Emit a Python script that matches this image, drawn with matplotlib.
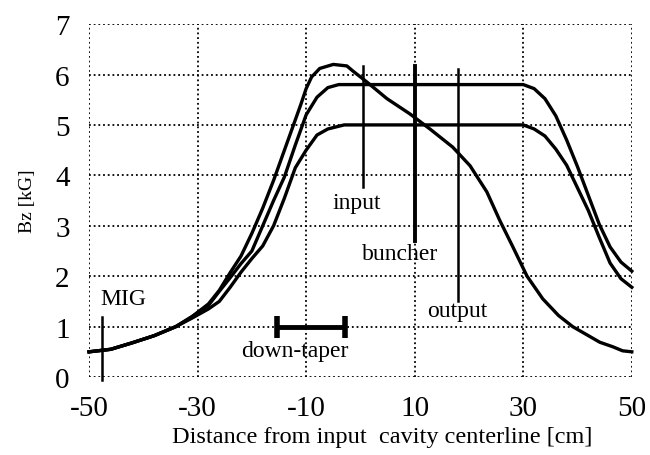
import matplotlib
matplotlib.use("Agg")
import matplotlib.pyplot as plt

# ---- data ----
xa = [-50, -46, -42, -38, -34, -31, -28, -26, -24, -22, -20, -18, -16, -14, -12,
      -11, -10, -9, -7.5, -5, -2.5, -1.4, 1.2, 4.9, 9.1, 12.8, 17, 20.2, 23.3,
      25.7, 28, 30.7, 33.6, 36.5, 39.1, 42, 44.1, 46.5, 48.3, 50]
ya = [0.5, 0.55, 0.68, 0.82, 1.0, 1.2, 1.45, 1.72, 2.07, 2.4, 2.85, 3.35, 3.9, 4.5, 5.1,
      5.4, 5.72, 5.95, 6.12, 6.2, 6.17, 6.07, 5.85, 5.52, 5.22, 4.92, 4.56, 4.19, 3.67,
      3.1, 2.6, 2.0, 1.55, 1.22, 1.0, 0.82, 0.69, 0.6, 0.52, 0.5]

xb = [-50, -46, -42, -38, -34, -31, -28, -26, -24, -22, -20, -18, -16, -14, -12,
      -10, -8, -6, -4, 30, 32, 34, 36, 38, 40, 42, 44, 46, 48, 50]
yb = [0.5, 0.55, 0.68, 0.82, 1.0, 1.2, 1.42, 1.7, 1.97, 2.25, 2.5, 3.0, 3.5, 3.97, 4.6,
      5.2, 5.55, 5.74, 5.8, 5.8, 5.72, 5.52, 5.18, 4.7, 4.17, 3.6, 3.03, 2.58, 2.28, 2.1]

xc = [-50, -46, -42, -38, -34, -31, -28, -26, -24, -22, -20, -18, -16, -14, -12,
      -10, -8, -6, -3, 30, 32, 34, 36, 38, 40, 42, 44, 46, 48, 50]
yc = [0.5, 0.55, 0.68, 0.82, 1.0, 1.17, 1.35, 1.5, 1.78, 2.08, 2.35, 2.6, 3.0, 3.55, 4.15,
      4.5, 4.8, 4.92, 5.0, 5.0, 4.92, 4.78, 4.52, 4.2, 3.75, 3.3, 2.77, 2.26, 1.95, 1.78]

# vertical markers
marker_names = ["MIG", "input", "buncher", "output"]
marker_x = [-47.6, 0.5, 10, 18]
marker_ylo = [-0.05, 3.77, 2.7, 1.5]
marker_yhi = [1.2, 6.17, 6.17, 6.1]
marker_lw = [1.8, 1.8, 2.8, 1.8]
label_x = [-47.9, -0.6, 7.3, 17.8]
label_y = [1.55, 3.47, 2.44, 1.31]
label_ha = ["left", "center", "center", "center"]

taper_x = [-15.4, -2.9]
taper_y = 1.0
taper_label = "down-taper"

xticks = [-50, -30, -10, 10, 30, 50]
yticks = [0, 1, 2, 3, 4, 5, 6, 7]

serif = ["Liberation Serif", "DejaVu Serif"]

fig = plt.figure(figsize=(6.5, 4.56), dpi=100)
ax = fig.add_axes([0.137, 0.171, 0.835, 0.774])

for s in ax.spines.values():
    s.set_visible(False)

ax.set_xlim(-50, 50)
ax.set_ylim(0, 7)
ax.set_xticks(xticks)
ax.set_yticks(yticks)
ax.set_xticklabels([str(t) for t in xticks], family=serif, fontsize=21)
ax.set_yticklabels([str(t) for t in yticks], family=serif, fontsize=21)
ax.tick_params(axis="x", length=0, pad=13)
ax.tick_params(axis="y", length=0, pad=14)
ax.grid(True, color="black", linestyle=(0, (1, 1.6)), linewidth=1.3)
ax.set_axisbelow(True)

for xv, yv in [(xa, ya), (xb, yb), (xc, yc)]:
    ax.plot(xv, yv, color="black", linewidth=2.4, solid_joinstyle="round", clip_on=False)

for name, x, lo, hi, lw, lx, ly, ha in zip(marker_names, marker_x, marker_ylo, marker_yhi,
                                         marker_lw, label_x, label_y, label_ha):
    ax.plot([x, x], [lo, hi], color="black", linewidth=lw, clip_on=False)
    ax.text(lx, ly, name, family=serif, fontsize=17, ha=ha, va="center")

ax.plot(taper_x, [taper_y, taper_y], color="black", linewidth=3.5, solid_capstyle="butt")
ax.plot(taper_x, [taper_y, taper_y], color="black", linestyle="none", marker="|",
        markersize=16, markeredgewidth=4)
ax.text(sum(taper_x) / 2 - 3.0, 0.52, taper_label, family=serif, fontsize=17,
        ha="center", va="center")

ax.set_xlabel("Distance from input  cavity centerline [cm]", family=serif, fontsize=17.5)
ax.xaxis.set_label_coords(0.54, -0.138)
ax.set_ylabel("Bz [kG]", family=serif, fontsize=14, labelpad=14)

fig.savefig("out.png", dpi=100)
